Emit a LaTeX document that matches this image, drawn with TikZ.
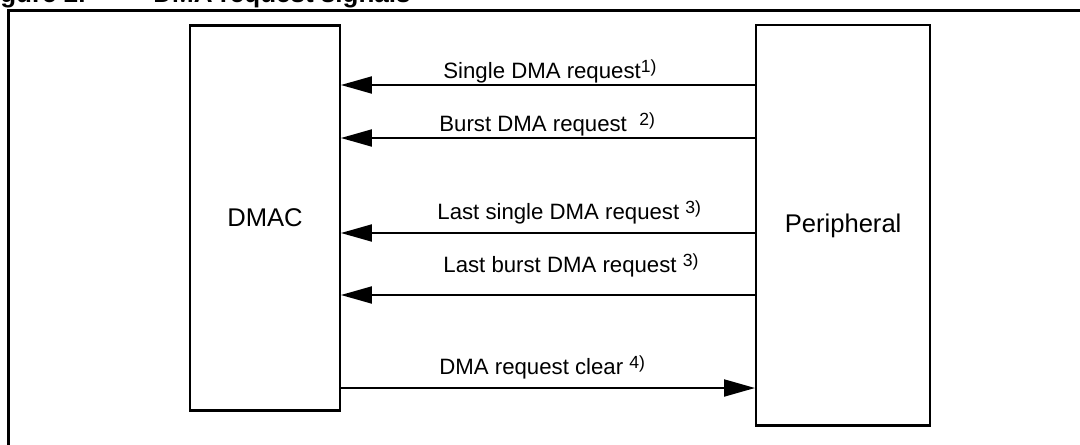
\documentclass[tikz,border=0pt]{standalone}
\usepackage{fontspec}
\setmainfont{Liberation Sans}
\usetikzlibrary{arrows.meta}
\newcommand{\fnref}[1]{\raisebox{3pt}{\fontsize{8.8}{9}\selectfont #1}}
\begin{document}
\begin{tikzpicture}[x=0.5pt,y=-0.5pt,
  box/.style={draw, line width=1.2pt, inner sep=0pt, font=\fontsize{12.8}{15}\selectfont},
  sigline/.style={line width=1pt, -{Triangle[length=15.5pt,width=8.5pt]}},
  lab/.style={anchor=base west, inner sep=0pt, font=\fontsize{11.1}{13}\selectfont},
  ttl/.style={inner sep=0pt, font=\fontsize{13}{15}\selectfont\bfseries},
  frameline/.style={line width=1.3pt}]
\useasboundingbox (0,0) rectangle (1080,444);
\clip (0,0) rectangle (1080,444);
% title (cut off at top, as in the reference)
\node[ttl, anchor=base east] (ttlnum) at (86,2.5) {Figure 2.};
\node[ttl, anchor=base west] (ttltxt) at (153,2.5) {DMA request signals};
% outer frame
\coordinate (fbl) at (8.3,470);
\coordinate (ftl) at (8.3,10.5);
\coordinate (ftr) at (1100,10.5);
\draw[frameline] (fbl) -- (ftl) -- (ftr);
% boxes
\node[box, minimum width=74.75pt, minimum height=192.6pt] (dmac) at (265,218) {DMAC};
\node[box, minimum width=86.9pt, minimum height=200.1pt] (peri) at (843.1,225.4) {Peripheral};
% signal levels
\coordinate (y1) at (0,85);
\coordinate (y2) at (0,138);
\coordinate (y3) at (0,233);
\coordinate (y4) at (0,295);
\coordinate (y5) at (0,388);
\draw[sigline] (peri.west |- y1) -- (dmac.east |- y1);
\draw[sigline] (peri.west |- y2) -- (dmac.east |- y2);
\draw[sigline] (peri.west |- y3) -- (dmac.east |- y3);
\draw[sigline] (peri.west |- y4) -- (dmac.east |- y4);
\draw[sigline] (dmac.east |- y5) -- (peri.west |- y5);
% labels
\node[lab] (l1) at (443,79) {Single DMA request\fnref{1)}};
\node[lab] (l2) at (439,132) {Burst DMA request\ \ \fnref{2)}};
\node[lab] (l3) at (437,219) {Last single DMA request \fnref{3)}};
\node[lab] (l4) at (443,272) {Last burst DMA request \fnref{3)}};
\node[lab] (l5) at (439,374) {DMA request clear \fnref{4)}};
\end{tikzpicture}
\end{document}
